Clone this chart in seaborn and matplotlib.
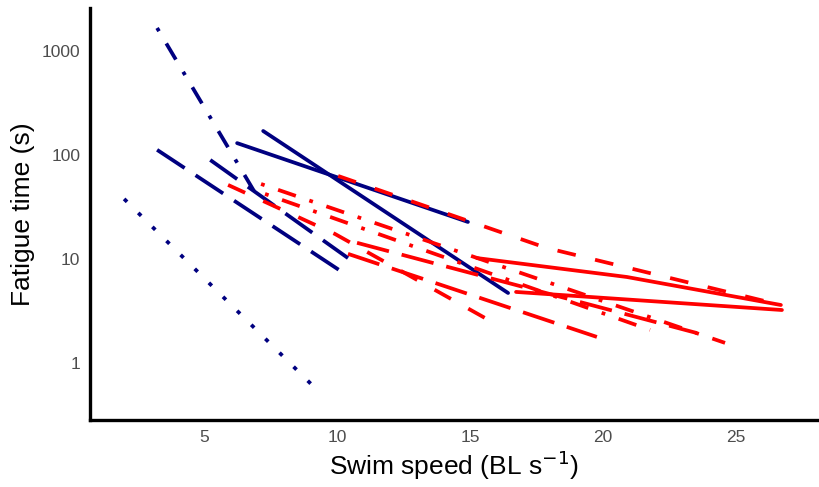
import numpy as np
import pandas as pd
import matplotlib
matplotlib.use('Agg')
import matplotlib.pyplot as plt
import seaborn as sns

# fitted fatigue curves (speed in BL/s, time in s)
# navy group
n1_speed = [1.99, 9.36]
n1_time = [37.8, 0.515]
n2_speed = [3.23, 7.03]
n2_time = [1664, 38.6]
n3_speed = [3.23, 10.30]
n3_time = [112, 7.18]
n4_speed = [5.23, 10.41]
n4_time = [89.5, 10.2]
n5_speed = [6.24, 14.92]
n5_time = [130, 22.7]
n6_speed = [7.22, 16.43]
n6_time = [170, 4.71]

# red group
r1_speed = [10.04, 17.86, 26.69]
r1_time = [62.8, 12.8, 3.61]
r2_speed = [15.26, 20.90, 26.69]
r2_time = [10.2, 6.71, 3.61]
r3_speed = [16.73, 26.73]
r3_time = [4.82, 3.23]
r4_speed = [7.14, 24.59]
r4_time = [52.6, 1.56]
r5_speed = [7.29, 21.77]
r5_time = [42.2, 2.08]
r6_speed = [5.90, 9.92, 15.56]
r6_time = [51.5, 17.4, 2.71]
r7_speed = [10.41, 19.77]
r7_time = [11.2, 1.78]
r8_speed = [10.75, 23.53]
r8_time = [14.3, 1.94]

curves = {
    'n1': (n1_speed, n1_time, 'navy', 'dotted'),
    'n2': (n2_speed, n2_time, 'navy', 'dotdash'),
    'n3': (n3_speed, n3_time, 'navy', 'longdash'),
    'n4': (n4_speed, n4_time, 'navy', 'longdash'),
    'n5': (n5_speed, n5_time, 'navy', 'solid'),
    'n6': (n6_speed, n6_time, 'navy', 'solid'),
    'r1': (r1_speed, r1_time, 'red', 'dashed'),
    'r2': (r2_speed, r2_time, 'red', 'solid'),
    'r3': (r3_speed, r3_time, 'red', 'solid'),
    'r4': (r4_speed, r4_time, 'red', 'dotdash'),
    'r5': (r5_speed, r5_time, 'red', 'dotdash'),
    'r6': (r6_speed, r6_time, 'red', 'dashed'),
    'r7': (r7_speed, r7_time, 'red', 'longdash'),
    'r8': (r8_speed, r8_time, 'red', 'longdash'),
}

line_types = {
    'solid': '',
    'dashed': (5, 5.3),
    'dotted': (1.1, 4.2),
    'dotdash': (1, 3.8, 5, 3.8),
    'longdash': (8.8, 3.5),
}
colours = {'navy': '#000080', 'red': '#FF0000'}

rows = []
for name, (sp, tm, col, lt) in curves.items():
    for s, t in zip(sp, tm):
        rows.append({'curve': name, 'speed': s, 'time': t})
df = pd.DataFrame(rows)

sns.set_style('white')
plt.rcParams['font.family'] = ['Liberation Sans', 'DejaVu Sans']

fig = plt.figure(figsize=(8.19, 4.87), dpi=100)
ax = fig.add_axes([0.110, 0.1376, 0.8876, 0.846])

sns.lineplot(data=df, x='speed', y='time', hue='curve', style='curve',
             palette={k: colours[v[2]] for k, v in curves.items()},
             dashes={k: line_types[v[3]] for k, v in curves.items()},
             sort=False, estimator=None, linewidth=2.7, legend=False, ax=ax)

ax.set_yscale('log')
ax.set_xlim(0.71, 28.05)
ax.set_ylim(0.283, 2590)
ax.set_xticks([5, 10, 15, 20, 25])
ax.set_yticks([1, 10, 100, 1000])
ax.set_yticklabels(['1', '10', '100', '1000'])
ax.minorticks_off()

for side in ['top', 'right']:
    ax.spines[side].set_visible(False)
for side in ['left', 'bottom']:
    ax.spines[side].set_linewidth(2.4)
    ax.spines[side].set_color('black')

ax.tick_params(axis='both', which='major', direction='out', length=4, width=2,
               color='#333333', labelcolor='#4D4D4D', labelsize=12.5, pad=3)
ax.set_xlabel('Swim speed (BL s$^{-1}$)', fontsize=19, color='black', labelpad=3)
ax.set_ylabel('Fatigue time (s)', fontsize=19, color='black', labelpad=5)

fig.savefig('out.png', dpi=100)
